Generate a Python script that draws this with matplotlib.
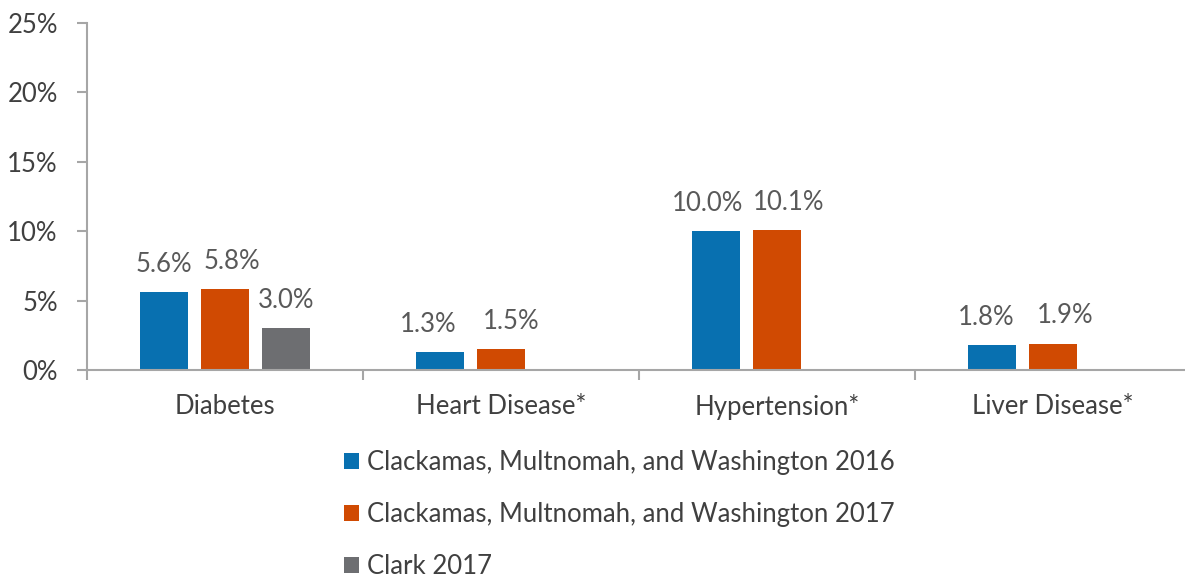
import numpy as np
import matplotlib.pyplot as plt
from matplotlib.ticker import FuncFormatter

categories = ["Diabetes", "Heart Disease*", "Hypertension*", "Liver Disease*"]
series_names = [
    "Clackamas, Multnomah, and Washington 2016",
    "Clackamas, Multnomah, and Washington 2017",
    "Clark 2017",
]
tri_2016 = [5.6, 1.3, 10.0, 1.8]
tri_2017 = [5.8, 1.5, 10.1, 1.9]
clark_2017 = [3.0, np.nan, np.nan, np.nan]
colors = ["#0870B0", "#D04A02", "#6D6E71"]

# horizontal nudges (points) of the value labels, as placed in the original chart
label_nudge = [
    [0, -8, -6, -4],
    [5, 7, 8, 9],
    [0, 0, 0, 0],
]

plt.rcParams["font.family"] = ["Lato", "DejaVu Sans"]
fs = 18.5

fig = plt.figure(figsize=(11.85, 5.79), dpi=100)
ax = fig.add_axes([87 / 1185, 1 - 370 / 579, 1104 / 1185, (370 - 23) / 579])

x = np.arange(len(categories))
width = 0.175
step = 0.222
axis_grey = "#A6A6A6"
for i, (vals, name, col) in enumerate(zip([tri_2016, tri_2017, clark_2017], series_names, colors)):
    pos = x + (i - 1) * step
    ax.bar(pos, vals, width, color=col, label=name)
    for j, (p, v) in enumerate(zip(pos, vals)):
        if not np.isnan(v):
            ax.annotate(f"{v:.1f}%", (p, v), xytext=(label_nudge[i][j], 11), textcoords="offset points",
                        ha="center", va="bottom", fontsize=fs, color="#595959")

ax.set_xlim(-0.5, len(categories) - 0.5)
ax.set_ylim(0, 25)
ax.set_yticks(np.arange(0, 26, 5))
ax.yaxis.set_major_formatter(FuncFormatter(lambda v, _: f"{v:.0f}%"))
ax.set_xticks(x)
ax.set_xticklabels(categories)
ax.set_xticks(np.arange(-0.5, len(categories)), minor=True)
ax.tick_params(axis="x", which="major", length=0, pad=17, labelsize=fs, labelcolor="#404040")
ax.tick_params(axis="x", which="minor", length=7, width=1.5, color=axis_grey)
ax.tick_params(axis="y", length=7, width=1.5, color=axis_grey, labelsize=fs, labelcolor="#404040", pad=14)

for side in ["top", "right"]:
    ax.spines[side].set_visible(False)
for side in ["left", "bottom"]:
    ax.spines[side].set_color(axis_grey)
    ax.spines[side].set_linewidth(1.5)

fig.legend(loc="upper left", bbox_to_anchor=(331 / 1185, 1 - 437 / 579), frameon=False,
           fontsize=fs, labelcolor="#404040", handlelength=0.6, handleheight=0.6,
           handletextpad=0.3, labelspacing=1.06, borderpad=0)

fig.savefig("out.png", dpi=100)
